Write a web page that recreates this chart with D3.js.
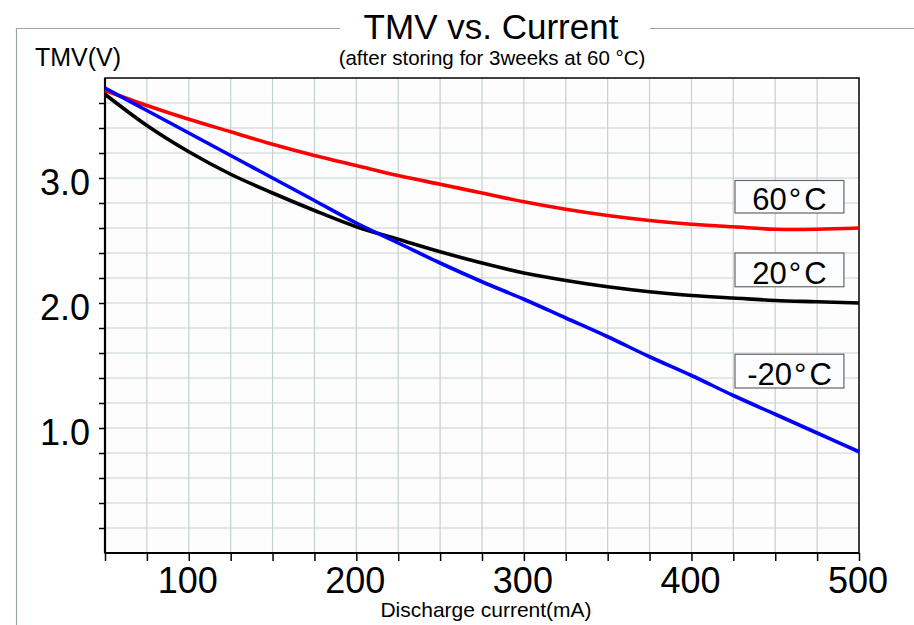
<!DOCTYPE html>
<html>
<head>
<meta charset="utf-8">
<script src="https://cdn.jsdelivr.net/npm/d3@7"></script>
<style>
  body { margin: 0; background: #fff; }
  text { font-family: "Liberation Sans", Arial, sans-serif; fill: #000; }
</style>
</head>
<body>
<script>
var svgWidth = 914;
var svgHeight = 625;

// discharge current (mA) and TMV (V)
var currents = [50, 75, 100, 125, 150, 175, 200, 225, 250, 275, 300, 325, 350, 375, 400, 425, 450, 475, 500];
var tmv60 = [3.70, 3.58, 3.47, 3.37, 3.27, 3.18, 3.10, 3.02, 2.95, 2.88, 2.81, 2.75, 2.70, 2.66, 2.63, 2.61, 2.59, 2.59, 2.60];
var tmv20 = [3.67, 3.42, 3.21, 3.03, 2.88, 2.74, 2.61, 2.51, 2.41, 2.32, 2.24, 2.18, 2.13, 2.09, 2.06, 2.04, 2.02, 2.01, 2.00];
var tmvMinus20 = [3.72, 3.54, 3.36, 3.18, 3.00, 2.82, 2.64, 2.48, 2.32, 2.17, 2.03, 1.88, 1.73, 1.57, 1.42, 1.26, 1.11, 0.96, 0.81];

var seriesNames = ["60", "20", "-20"];
var xTickLabels = [100, 200, 300, 400, 500];
var yTickLabels = ["1.0", "2.0", "3.0"];

var seriesColors = ["#ff0000", "#000000", "#0000ff"];
// label boxes, in data units (left/right mA, top/bottom V)
var labelBoxes = [
  {x0: 426, x1: 491, top: 2.98, bottom: 2.72},
  {x0: 426, x1: 491, top: 2.40, bottom: 2.13},
  {x0: 426, x1: 491, top: 1.59, bottom: 1.32}
];

var chartMargin = {top: 78, right: 55, bottom: 72, left: 105};
var chartWidth = svgWidth - chartMargin.left - chartMargin.right;
var chartHeight = svgHeight - chartMargin.top - chartMargin.bottom;

var svg = d3.select("body").append("svg")
  .attr("width", svgWidth)
  .attr("height", svgHeight);

// outer gray frame, broken by the title
svg.append("path")
  .attr("d", "M340,28.5 H16.5 V625 M650,28.5 H914")
  .attr("fill", "none")
  .attr("stroke", "#9aa6a6")
  .attr("stroke-width", 1.2);

var x = d3.scaleLinear().domain([50, 500]).range([chartMargin.left, chartMargin.left + chartWidth]);
var y = d3.scaleLinear().domain([0, 3.8]).range([chartMargin.top + chartHeight, chartMargin.top]);

var xMinor = d3.range(50, 501, 25);
var yMinor = d3.range(1, 19).map(d => d * 0.2);

// plot background
svg.append("rect")
  .attr("x", x(50)).attr("y", y(3.8))
  .attr("width", chartWidth).attr("height", chartHeight)
  .attr("fill", "#fdfdfe");

// grid
var grid = svg.append("g").attr("stroke", "#c5d0d0").attr("stroke-width", 1.2);
grid.selectAll(".vg").data(xMinor.slice(1, -1)).enter()
  .append("line")
  .attr("x1", d => x(d)).attr("x2", d => x(d))
  .attr("y1", y(3.8)).attr("y2", y(0));
grid.selectAll(".hg").data(yMinor).enter()
  .append("line")
  .attr("x1", x(50)).attr("x2", x(500))
  .attr("y1", d => y(d)).attr("y2", d => y(d));

// axes with outside ticks, labels drawn separately
var leftAxis = d3.axisLeft(y).tickValues(yMinor).tickSize(6).tickFormat("");
var bottomAxis = d3.axisBottom(x).tickValues(xMinor).tickSize(8).tickFormat("");

var gy = svg.append("g").attr("transform", `translate(${x(50)},0)`).call(leftAxis);
var gx = svg.append("g").attr("transform", `translate(0,${y(0)})`).call(bottomAxis);
[gy, gx].forEach(g => {
  g.select(".domain").remove();
  g.selectAll(".tick line").attr("stroke", "#000").attr("stroke-width", 1.5);
});

// frame around the plot
svg.append("rect")
  .attr("x", x(50)).attr("y", y(3.8))
  .attr("width", chartWidth).attr("height", chartHeight)
  .attr("fill", "none").attr("stroke", "#000").attr("stroke-width", 1.5);
svg.append("line")
  .attr("x1", x(50)).attr("x2", x(50)).attr("y1", y(3.8)).attr("y2", y(0))
  .attr("stroke", "#000").attr("stroke-width", 2.2);
svg.append("line")
  .attr("x1", x(50)).attr("x2", x(500)).attr("y1", y(0)).attr("y2", y(0))
  .attr("stroke", "#000").attr("stroke-width", 2);

// tick labels
svg.selectAll(".ylab").data(yTickLabels).enter()
  .append("text")
  .attr("x", x(50) - 15)
  .attr("y", d => y(+d) + 17)
  .attr("text-anchor", "end")
  .style("font-size", "36px")
  .text(d => d);
svg.selectAll(".xlab").data(xTickLabels).enter()
  .append("text")
  .attr("x", d => x(d) - 1)
  .attr("y", y(0) + 40)
  .attr("text-anchor", "middle")
  .style("font-size", "36px")
  .text(d => d);

// curves
var line = d3.line()
  .x((d, i) => x(currents[i]))
  .y(d => y(d))
  .curve(d3.curveCatmullRom);
[tmv60, tmv20, tmvMinus20].forEach((vals, k) => {
  svg.append("path")
    .datum(vals)
    .attr("d", line)
    .attr("fill", "none")
    .attr("stroke", seriesColors[k])
    .attr("stroke-width", 3.6)
    .attr("stroke-linejoin", "round");
});

// series label boxes
labelBoxes.forEach((b, k) => {
  svg.append("rect")
    .attr("x", x(b.x0)).attr("y", y(b.top))
    .attr("width", x(b.x1) - x(b.x0)).attr("height", y(b.bottom) - y(b.top))
    .attr("fill", "#fcfdfe").attr("stroke", "#666").attr("stroke-width", 1.2);
  var t = svg.append("text")
    .attr("x", (x(b.x0) + x(b.x1)) / 2)
    .attr("y", y(b.bottom) - 3)
    .attr("text-anchor", "middle")
    .style("font-size", "31px");
  t.append("tspan").text(seriesNames[k]);
  t.append("tspan").attr("dx", 2).text("\u00b0");
  t.append("tspan").attr("dx", 3).text("C");
});

// titles
svg.append("text")
  .attr("x", 491).attr("y", 38.5)
  .attr("text-anchor", "middle")
  .style("font-size", "35px")
  .text("TMV vs. Current");
svg.append("text")
  .attr("x", 492).attr("y", 64.5)
  .attr("text-anchor", "middle")
  .style("font-size", "20.5px")
  .text("(after storing for 3weeks at 60 \u00b0C)");
svg.append("text")
  .attr("x", 35).attr("y", 66)
  .style("font-size", "25px")
  .text("TMV(V)");
svg.append("text")
  .attr("x", 486).attr("y", 617)
  .attr("text-anchor", "middle")
  .style("font-size", "21px")
  .text("Discharge current(mA)");
</script>
</body>
</html>
